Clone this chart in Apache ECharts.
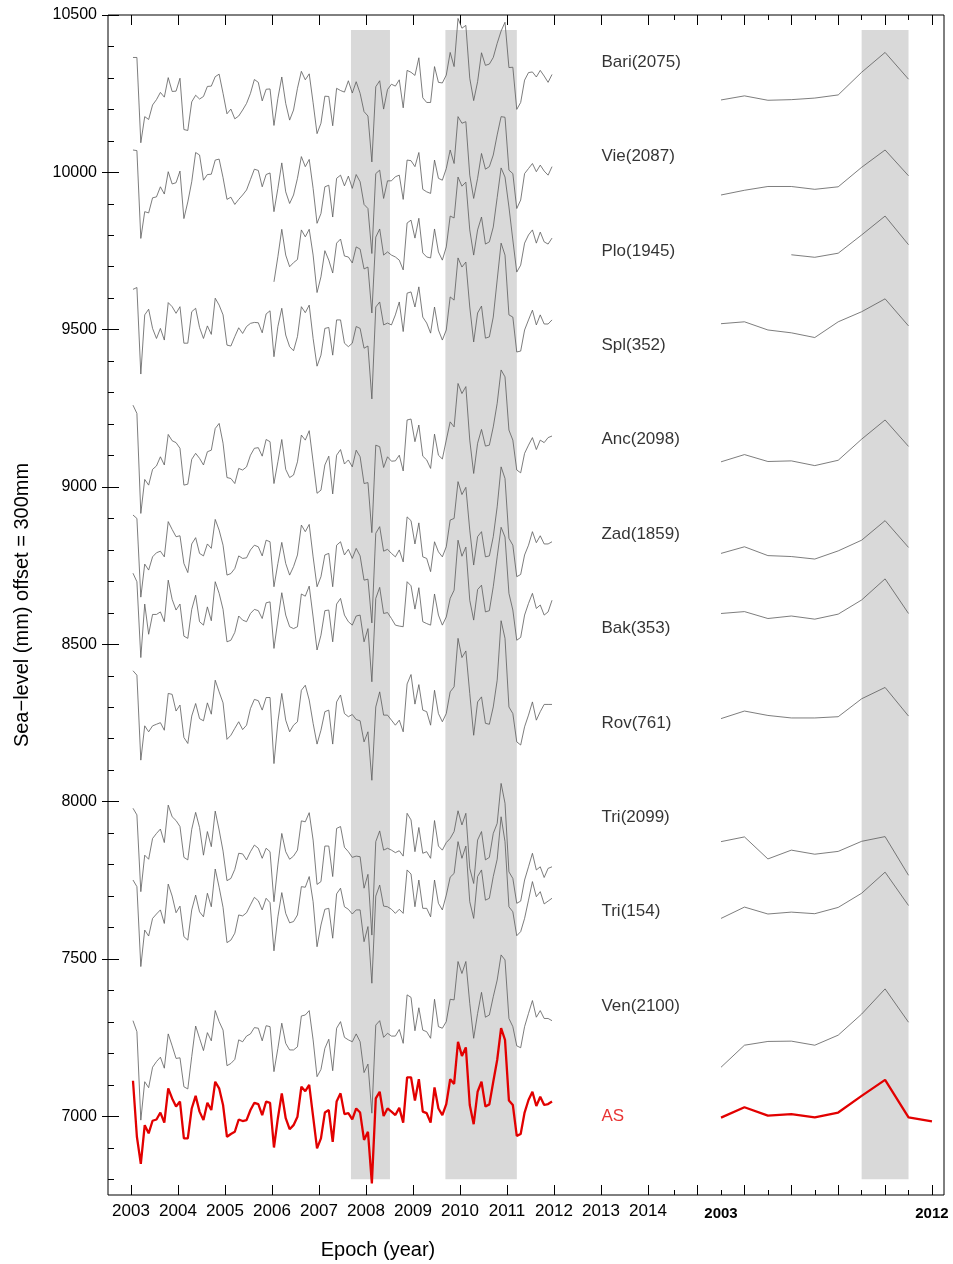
<!DOCTYPE html>
<html><head><meta charset="utf-8">
<script src="https://cdn.jsdelivr.net/npm/echarts@6/dist/echarts.min.js"></script>
<style>html,body{margin:0;padding:0;background:#fff}#c{width:953px;height:1264px}</style>
</head><body><div id="c"></div>
<script>
const FONT = '"Liberation Sans", Arial, Helvetica, sans-serif';

// ---------- DATA ----------
const firstYear = 2003;            // monthly series Jan 2003 .. Dec 2011
const stationNames = ['Bari(2075)','Vie(2087)','Plo(1945)','Spl(352)','Anc(2098)','Zad(1859)','Bak(353)','Rov(761)','Tri(2099)','Tri(154)','Ven(2100)'];
const labelLevels = [10350,10050,9750,9450,9150,8850,8550,8250,7950,7650,7350];
const asLabelLevel = 7000;
const yTickLabels = [7000,7500,8000,8500,9000,9500,10000,10500];
const leftYearLabels = [2003,2004,2005,2006,2007,2008,2009,2010,2011,2012,2013,2014];
const rightYearLabels = [2003,2012];
const shadeLeft = [[2007.68,2008.51],[2009.69,2011.21]];
const shadeRight = [[2009,2011]];
const shadeLevels = [6800,10452];

const bari = [10365,10365,10094,10177,10168,10214,10231,10254,10239,10301,
10257,10258,10299,10136,10133,10224,10245,10233,10241,10273,
10274,10304,10312,10251,10186,10201,10170,10179,10198,10219,
10251,10295,10286,10227,10264,10265,10149,10235,10303,10219,
10166,10198,10267,10321,10294,10313,10221,10123,10156,10242,
10241,10148,10267,10260,10255,10291,10252,10288,10251,10193,
10179,10033,10272,10291,10201,10263,10280,10274,10294,10205,
10324,10318,10308,10364,10237,10222,10222,10336,10286,10284,
10309,10381,10336,10489,10458,10467,10299,10228,10288,10380,
10340,10344,10365,10410,10449,10477,10333,10334,10200,10222,
10293,10317,10319,10303,10324,10306,10286,10311];

const vie = [10071,10069,9790,9875,9871,9919,9922,9954,9931,10002,
9963,9967,10004,9853,9906,9970,10063,10055,9975,9993,
9994,10039,10042,9983,9914,9921,9898,9914,9928,9944,
9977,10010,10006,9954,9993,9998,9875,9949,10030,9938,
9901,9928,9981,10050,10018,10041,9949,9838,9869,9954,
9959,9858,9981,9991,9957,9988,9949,9993,9970,9898,
9885,9742,9996,10007,9917,9973,9973,9986,9991,9914,
10039,10037,10018,10063,9946,9938,9933,10039,9981,9975,
10012,10071,10028,10177,10156,10161,9991,9917,9981,10060,
10010,10018,10055,10119,10177,10175,10007,9996,9885,9912,
9996,10012,10028,10002,10023,10004,9991,10018];

const ploStart = 36; // Plo begins Jan 2006
const plo = [9652,9732,9819,9737,9700,9713,9723,9817,9795,9819,
9737,9618,9668,9751,9721,9680,9775,9788,9734,9731,
9712,9763,9756,9693,9699,9553,9794,9820,9737,9747,
9737,9731,9721,9690,9839,9848,9791,9854,9744,9731,
9728,9820,9747,9721,9763,9861,9855,9985,9956,9969,
9817,9737,9817,9858,9772,9779,9826,9920,10014,9985,
9890,9785,9683,9705,9775,9801,9817,9775,9810,9779,
9772,9791];

const spl = [9628,9634,9359,9547,9565,9504,9472,9504,9467,9586,
9573,9552,9573,9457,9457,9557,9568,9507,9472,9512,
9485,9600,9578,9547,9451,9448,9478,9506,9488,9510,
9520,9523,9522,9490,9550,9560,9414,9510,9568,9483,
9446,9433,9478,9573,9554,9578,9472,9384,9419,9504,
9507,9419,9531,9531,9457,9446,9457,9510,9504,9441,
9448,9280,9572,9588,9515,9521,9515,9547,9588,9494,
9616,9620,9572,9636,9540,9521,9489,9572,9499,9467,
9499,9604,9594,9728,9699,9715,9572,9461,9553,9575,
9473,9477,9540,9658,9775,9737,9547,9540,9429,9432,
9499,9531,9562,9515,9547,9518,9518,9531];

const anc = [9260,9234,8916,9024,9006,9056,9067,9096,9070,9167,
9147,9141,9123,9006,9009,9088,9107,9091,9070,9112,
9117,9186,9202,9139,9030,9027,9011,9059,9054,9064,
9101,9123,9125,9098,9151,9144,9011,9080,9151,9056,
9030,9038,9080,9165,9149,9179,9080,8980,8990,9070,
9098,8978,9101,9119,9073,9086,9064,9117,9096,9011,
9014,8855,9133,9128,9062,9096,9082,9083,9101,9051,
9213,9216,9144,9197,9098,9086,9059,9168,9101,9089,
9149,9207,9191,9329,9297,9319,9149,9043,9139,9183,
9130,9133,9191,9266,9372,9350,9181,9149,9054,9045,
9107,9133,9157,9119,9149,9141,9157,9162];

const zad = [8911,8900,8650,8755,8736,8778,8791,8796,8778,8890,
8865,8842,8845,8757,8728,8819,8839,8789,8781,8819,
8805,8897,8863,8815,8720,8725,8741,8781,8773,8775,
8800,8815,8810,8781,8831,8826,8683,8757,8824,8757,
8720,8747,8784,8879,8858,8881,8778,8683,8715,8784,
8789,8683,8815,8826,8784,8802,8773,8805,8781,8704,
8707,8568,8853,8874,8796,8802,8789,8778,8800,8762,
8905,8893,8819,8886,8778,8773,8731,8826,8794,8778,
8810,8895,8900,9017,8976,8999,8863,8752,8842,8858,
8778,8781,8842,8937,9064,9027,8837,8815,8715,8722,
8784,8815,8858,8823,8845,8819,8819,8826];

const bak = [8726,8699,8458,8628,8532,8595,8595,8603,8572,8704,
8643,8609,8628,8526,8519,8611,8656,8572,8561,8619,
8575,8699,8662,8611,8508,8513,8538,8590,8577,8572,
8598,8611,8607,8582,8632,8635,8487,8577,8664,8593,
8556,8550,8556,8660,8653,8685,8587,8482,8529,8607,
8609,8508,8628,8646,8593,8572,8561,8590,8593,8508,
8550,8381,8646,8681,8598,8601,8582,8561,8558,8556,
8699,8686,8612,8680,8572,8566,8561,8660,8593,8561,
8587,8646,8672,8831,8780,8809,8640,8577,8674,8688,
8603,8607,8683,8778,8872,8841,8662,8609,8513,8522,
8593,8630,8662,8614,8625,8593,8603,8640];

const rov = [8416,8402,8132,8241,8222,8241,8246,8251,8227,8344,
8341,8288,8307,8204,8185,8272,8312,8264,8257,8314,
8278,8386,8349,8314,8198,8211,8233,8254,8229,8243,
8296,8325,8321,8291,8331,8331,8121,8254,8344,8259,
8222,8243,8254,8354,8370,8323,8249,8183,8227,8286,
8291,8183,8317,8339,8280,8270,8277,8261,8257,8190,
8222,8068,8301,8349,8275,8275,8259,8243,8259,8222,
8374,8404,8310,8372,8291,8286,8243,8354,8280,8254,
8280,8349,8365,8519,8458,8479,8344,8211,8317,8333,
8249,8246,8301,8386,8575,8519,8301,8280,8190,8180,
8238,8275,8317,8259,8286,8309,8309,8309];

const tri2099 = [7979,7958,7714,7830,7817,7883,7899,7913,7870,7989,
7952,7940,7921,7823,7815,7912,7966,7918,7830,7905,
7857,7970,7910,7843,7749,7756,7785,7836,7834,7815,
7841,7862,7852,7820,7852,7841,7682,7799,7899,7841,
7817,7827,7846,7939,7936,7965,7878,7737,7746,7859,
7859,7762,7915,7921,7855,7841,7823,7827,7825,7725,
7769,7576,7873,7907,7846,7852,7846,7838,7844,7827,
7963,7942,7841,7918,7836,7841,7820,7940,7859,7846,
7870,7883,7905,7971,7926,7963,7788,7740,7878,7905,
7815,7823,7899,7931,8058,7995,7777,7756,7677,7684,
7751,7793,7836,7783,7793,7759,7788,7793];

const tri154 = [7751,7730,7476,7592,7573,7629,7643,7656,7613,7738,
7700,7647,7668,7571,7560,7656,7703,7650,7634,7709,
7666,7786,7728,7664,7552,7560,7582,7640,7637,7647,
7672,7696,7685,7656,7693,7679,7526,7634,7711,7645,
7615,7619,7640,7730,7728,7762,7682,7539,7608,7658,
7661,7566,7707,7725,7666,7658,7643,7656,7656,7555,
7603,7423,7700,7735,7668,7666,7658,7645,7658,7645,
7783,7770,7666,7751,7661,7661,7634,7751,7677,7656,
7703,7760,7772,7873,7820,7859,7682,7629,7762,7783,
7687,7693,7762,7817,7952,7873,7666,7650,7574,7587,
7629,7687,7746,7698,7714,7675,7684,7693];

const ven = [7304,7269,6988,7110,7091,7156,7174,7188,7153,7262,
7224,7184,7186,7094,7087,7190,7287,7248,7209,7266,
7240,7336,7301,7274,7161,7168,7181,7243,7237,7255,
7262,7282,7280,7240,7288,7285,7142,7216,7296,7232,
7211,7211,7221,7319,7322,7336,7243,7126,7149,7216,
7245,7145,7280,7301,7251,7243,7237,7262,7237,7139,
7166,7010,7290,7304,7251,7264,7255,7255,7276,7232,
7386,7378,7272,7345,7274,7269,7248,7372,7285,7280,
7301,7372,7370,7492,7454,7492,7359,7248,7327,7394,
7315,7322,7380,7433,7513,7497,7311,7285,7224,7218,
7285,7327,7368,7315,7336,7311,7311,7304];

const asMonthly = [7113,6935,6849,6972,6946,6986,6990,7012,6980,7089,
7057,7031,7047,6930,6930,7025,7065,7015,6988,7043,
7020,7110,7089,7036,6935,6944,6951,6990,6985,6988,
7020,7043,7039,7004,7047,7043,6901,6994,7073,6994,
6959,6972,6999,7094,7080,7100,6999,6898,6930,7012,
7020,6919,7047,7073,7007,7010,6990,7025,7012,6925,
6951,6787,7057,7078,7001,7025,7015,7004,7027,6980,
7124,7124,7050,7118,7015,7010,6980,7092,7025,7004,
7039,7118,7103,7237,7192,7219,7036,6975,7078,7110,
7031,7038,7110,7179,7280,7243,7050,7036,6938,6944,
7012,7052,7078,7033,7062,7036,7039,7047];

// annual means (right panel), 2003..2011 (Plo 2006..2011, AS 2003..2012)
const annualYears = [2003,2004,2005,2006,2007,2008,2009,2010,2011];
const bariA = [10230,10243,10229,10231,10236,10246,10318,10381,10296];
const vieA = [9928,9943,9955,9955,9946,9954,10016,10071,9989];
const ploAYears = [2006,2007,2008,2009,2010,2011];
const ploA = [9738,9730,9743,9801,9861,9770];
const splA = [9519,9525,9499,9490,9475,9525,9557,9598,9512];
const ancA = [9080,9103,9081,9083,9068,9085,9152,9213,9129];
const zadA = [8789,8810,8782,8779,8771,8797,8831,8893,8808];
const bakA = [8598,8604,8582,8590,8580,8596,8641,8708,8598];
const rovA = [8264,8288,8274,8266,8266,8270,8327,8363,8272];
const tri2099A = [7873,7888,7818,7846,7833,7842,7874,7889,7766];
const tri154A = [7629,7665,7643,7649,7644,7664,7709,7776,7670];
const venA = [7156,7226,7238,7239,7226,7258,7325,7405,7299];
const asAYears = [2003,2004,2005,2006,2007,2008,2009,2010,2011,2012];
const asA = [6996,7029,7002,7007,6997,7012,7065,7116,6997,6984];

// ---------- BUILD ----------
function monthlyPoints(vals, startIdx) {
  return vals.map((v, k) => [firstYear + (startIdx + k + 0.5) / 12, v]);
}
function annualPoints(years, vals) { return vals.map((v, k) => [years[k], v]); }

const monthlySets = [[bari,0],[vie,0],[plo,ploStart],[spl,0],[anc,0],[zad,0],[bak,0],[rov,0],[tri2099,0],[tri154,0],[ven,0]];
const annualSets = [[annualYears,bariA],[annualYears,vieA],[ploAYears,ploA],[annualYears,splA],[annualYears,ancA],[annualYears,zadA],[annualYears,bakA],[annualYears,rovA],[annualYears,tri2099A],[annualYears,tri154A],[annualYears,venA]];

const GRAY = '#5c5c5c';
const RED = '#e20000';
const series = [];

series.push({type:'line', xAxisIndex:0, yAxisIndex:0, data:[], z:0, silent:true,
  markArea:{silent:true, itemStyle:{color:'#d9d9d9'},
    data: shadeLeft.map(s => [{xAxis:s[0], yAxis:shadeLevels[0]},{xAxis:s[1], yAxis:shadeLevels[1]}])}});
series.push({type:'line', xAxisIndex:2, yAxisIndex:3, data:[], z:0, silent:true,
  markArea:{silent:true, itemStyle:{color:'#d9d9d9'},
    data: shadeRight.map(s => [{xAxis:s[0], yAxis:shadeLevels[0]},{xAxis:s[1], yAxis:shadeLevels[1]}])}});

monthlySets.forEach(([vals, st]) => series.push({type:'line', xAxisIndex:0, yAxisIndex:0, z:2,
  data: monthlyPoints(vals, st), symbol:'none', lineStyle:{color:GRAY, width:0.8}}));
series.push({type:'line', xAxisIndex:0, yAxisIndex:0, z:3, data: monthlyPoints(asMonthly, 0),
  symbol:'none', lineStyle:{color:RED, width:2.3}});

annualSets.forEach(([yrs, vals]) => series.push({type:'line', xAxisIndex:2, yAxisIndex:3, z:2,
  data: annualPoints(yrs, vals), symbol:'none', lineStyle:{color:GRAY, width:0.8}}));
series.push({type:'line', xAxisIndex:2, yAxisIndex:3, z:3, data: annualPoints(asAYears, asA),
  symbol:'none', lineStyle:{color:RED, width:2.3}});

// station labels
const labelData = stationNames.map((n, k) => ({name:n, value:[2013, labelLevels[k]]}));
labelData.push({name:'AS', value:[2013, asLabelLevel], label:{color:RED}});
series.push({type:'scatter', xAxisIndex:0, yAxisIndex:0, z:4, silent:true, symbolSize:1,
  itemStyle:{color:'rgba(0,0,0,0)'}, data: labelData,
  label:{show:true, position:'right', distance:0, formatter:'{b}', color:'#000', fontSize:17, fontFamily:FONT}});

// tick positions
const minorY = []; for (let v = 6800; v <= 10400; v += 100) if (v % 500 !== 0) minorY.push(v);
const rightTicksLong = [], rightTicksShort = [];
for (let y = 2001; y <= 2012; y++) (y % 2 === 0 ? rightTicksLong : rightTicksShort).push(y);

const yMin = 6750, yMax = 10500;
const xMinL = 2002.51, xMaxL = 2020.3;
const xMinR = 2000.9, xMaxR = 2012.514;

const baseY = {type:'value', min:yMin, max:yMax, splitLine:{show:false}, axisLine:{show:false}};
const baseX = {type:'value', splitLine:{show:false}, axisLine:{show:false}};

const option = {
  animation:false,
  backgroundColor:'#fff',
  grid:[
    {left:108, top:15, width:836, height:1180, show:true, borderColor:'#000', borderWidth:1, backgroundColor:'rgba(0,0,0,0)', containLabel:false, outerBoundsMode:'none'},
    {left:671.8, top:15, width:272.2, height:1180, show:false, containLabel:false, outerBoundsMode:'none'}
  ],
  xAxis:[
    Object.assign({}, baseX, {gridIndex:0, position:'bottom', min:xMinL, max:xMaxL,
      axisTick:{show:true, inside:true, length:10, customValues:leftYearLabels, lineStyle:{color:'#000'}},
      axisLabel:{show:true, customValues:leftYearLabels, margin:8, fontSize:17, color:'#000', fontFamily:FONT, formatter:v=>String(v)}}),
    Object.assign({}, baseX, {gridIndex:0, position:'top', min:xMinL, max:xMaxL,
      axisTick:{show:true, inside:true, length:10, customValues:leftYearLabels, lineStyle:{color:'#000'}},
      axisLabel:{show:false}}),
    Object.assign({}, baseX, {gridIndex:1, position:'bottom', min:xMinR, max:xMaxR,
      axisTick:{show:true, inside:true, length:10, customValues:rightTicksLong, lineStyle:{color:'#000'}},
      axisLabel:{show:true, customValues:rightYearLabels, margin:11, fontSize:15, fontWeight:'bold', color:'#000', fontFamily:FONT, formatter:v=>String(v)}}),
    Object.assign({}, baseX, {gridIndex:1, position:'bottom', min:xMinR, max:xMaxR,
      axisTick:{show:true, inside:true, length:5, customValues:rightTicksShort, lineStyle:{color:'#000'}},
      axisLabel:{show:false}}),
    Object.assign({}, baseX, {gridIndex:1, position:'top', min:xMinR, max:xMaxR,
      axisTick:{show:true, inside:true, length:10, customValues:rightTicksLong, lineStyle:{color:'#000'}},
      axisLabel:{show:false}}),
    Object.assign({}, baseX, {gridIndex:1, position:'top', min:xMinR, max:xMaxR,
      axisTick:{show:true, inside:true, length:5, customValues:rightTicksShort, lineStyle:{color:'#000'}},
      axisLabel:{show:false}})
  ],
  yAxis:[
    Object.assign({}, baseY, {gridIndex:0, position:'left',
      axisTick:{show:true, inside:true, length:11, customValues:yTickLabels, lineStyle:{color:'#000'}},
      axisLabel:{show:true, customValues:yTickLabels, margin:11, fontSize:16, color:'#000', fontFamily:FONT, formatter:v=>String(v)}}),
    Object.assign({}, baseY, {gridIndex:0, position:'left',
      axisTick:{show:true, inside:true, length:6, customValues:minorY, lineStyle:{color:'#000'}},
      axisLabel:{show:false}}),
    Object.assign({}, baseY, {gridIndex:0, position:'left',
      axisTick:{show:true, inside:false, length:6, customValues:yTickLabels, lineStyle:{color:'#000'}},
      axisLabel:{show:false}}),
    Object.assign({}, baseY, {gridIndex:1, show:false})
  ],
  graphic:[
    {type:'text', x:22, y:605, rotation:Math.PI/2, z:10,
      style:{text:'Sea\u2212level (mm) offset = 300mm', font:'20px ' + FONT, fill:'#000', textAlign:'center', textVerticalAlign:'middle'}},
    {type:'text', x:378, y:1250, z:10,
      style:{text:'Epoch (year)', font:'20px ' + FONT, fill:'#000', textAlign:'center', textVerticalAlign:'middle'}}
  ],
  series: series
};

const chart = echarts.init(document.getElementById('c'), null, {renderer:'canvas'});
chart.setOption(option);
</script>
</body></html>
